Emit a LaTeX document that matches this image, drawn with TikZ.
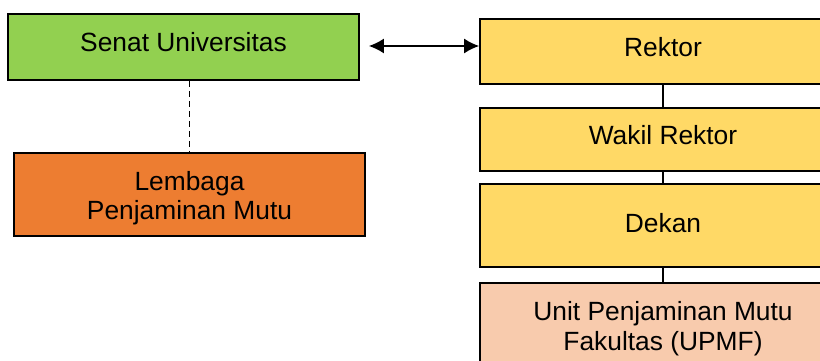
\documentclass[tikz,border=0pt]{standalone}
\usepackage{fontspec}
\setmainfont{Liberation Sans}
\usepackage{xcolor}
\usetikzlibrary{positioning, arrows.meta}

\definecolor{senatgreen}{HTML}{92D050}
\definecolor{lpmorange}{HTML}{ED7D31}
\definecolor{rektoryellow}{HTML}{FFD966}
\definecolor{upmfpeach}{HTML}{F8CBAD}

\begin{document}
\begin{tikzpicture}[x=0.02cm, y=-0.02cm,
    unit/.style={draw=black, line width=0.04cm, align=center, inner sep=0pt,
      text height=0.39cm, text depth=0.2cm, font=\fontsize{15}{17}\selectfont},
    link/.style={black, line width=0.04cm},
  ]
    \useasboundingbox (0,0) rectangle (820,361);

    % kiri
    \node[unit, fill=senatgreen, minimum width=7.02cm, minimum height=1.32cm] (senat) at (183.5,47) {Senat Universitas};
    \node[unit, fill=lpmorange, minimum width=7.02cm, minimum height=1.66cm, text height=1.13cm, text depth=0.11cm] (lpm) at (189.5,194.5) {Lembaga\\Penjaminan Mutu};
    \draw[black, line width=0.02cm, dash pattern=on 0.12cm off 0.08cm] (lpm.north |- senat.south) -- (lpm.north);

    % kanan
    \node[unit, fill=rektoryellow, minimum width=7.32cm, minimum height=1.30cm] (rektor) at (663,51.5) {Rektor};
    \node[unit, fill=rektoryellow, minimum width=7.32cm, minimum height=1.26cm] (wakil) at (663,139.5) {Wakil Rektor};
    \node[unit, fill=rektoryellow, minimum width=7.32cm, minimum height=1.66cm, text depth=0.12cm] (dekan) at (663,225.5) {Dekan};
    \node[unit, fill=upmfpeach, minimum width=7.32cm, minimum height=1.84cm, text height=0.98cm, text depth=0.11cm] (upmf) at (663,329) {Unit Penjaminan Mutu\\Fakultas (UPMF)};

    \draw[link] (rektor.south) -- (wakil.north);
    \draw[link] (wakil.south) -- (dekan.north);
    \draw[link] (dekan.south) -- (upmf.north);

    % senat <-> rektor
    \draw[black, line width=0.025cm, {Latex[length=0.3cm, width=0.3cm]}-{Latex[length=0.3cm, width=0.3cm]}]
      ([xshift=0.18cm, yshift=0.02cm]senat.east) -- ([yshift=0.02cm]senat.east -| rektor.west);
\end{tikzpicture}
\end{document}
